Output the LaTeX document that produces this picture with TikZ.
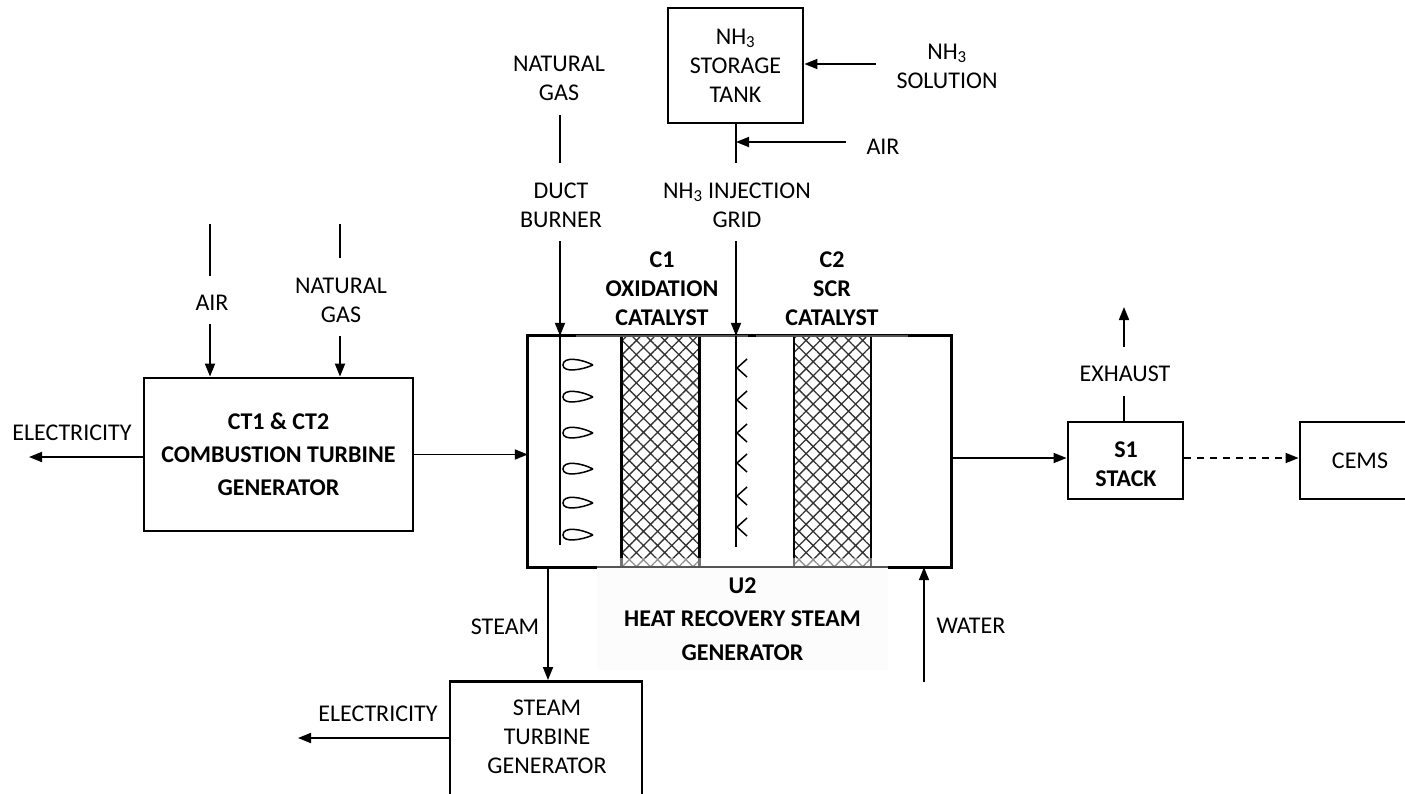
\documentclass[tikz,border=0pt]{standalone}
\usepackage{fontspec}
\setmainfont{Carlito}
\usepackage{tikz}
\usetikzlibrary{arrows.meta,patterns.meta}
\definecolor{SoftGray}{HTML}{FCFCFC}
\definecolor{HatchGray}{HTML}{333333}
\definecolor{EdgeGray}{HTML}{555555}
\begin{document}
\begin{tikzpicture}[x=1pt,y=-1pt,
  unit/.style={draw,line width=2.8pt,inner sep=0pt,align=center},
  lab/.style={inner sep=0pt,align=center},
  boldlab/.style={inner sep=0pt,align=center,font=\fontsize{24}{29}\selectfont\bfseries},
  bedfill/.style={pattern={Hatch[angle=45,distance=10pt,line width=1.3pt]},pattern color=HatchGray,minimum width=77pt,minimum height=231pt,inner sep=0pt},
  arrow/.style={-{Triangle[length=13pt,width=10pt]},line width=1.8pt},
  plain/.style={line width=1.8pt},
  font=\fontsize{24}{29}\selectfont
]
\useasboundingbox (0,0) rectangle (1405,793);
\node[unit,minimum width=269pt,minimum height=153pt,font=\fontsize{24}{33}\selectfont\bfseries] (ct) at (278.5,454.5) {CT1 \& CT2\\COMBUSTION TURBINE\\GENERATOR};
\node[minimum width=423pt,minimum height=231pt,inner sep=0pt] (hrsg) at (739.5,451.5) {};
\node[unit,minimum width=115pt,minimum height=77pt] (stack) at (1125.5,460.5) {};
\node[boldlab] (stacklab) at (1126,464) {S1\\STACK};
\node[unit,minimum width=120pt,minimum height=77pt] (cems) at (1360,460.5) {CEMS};
\node[unit,minimum width=135pt,minimum height=115pt] (tank) at (735.5,65.5) {NH\textsubscript{3}\\STORAGE\\TANK};
\node[unit,minimum width=192pt,minimum height=130pt,anchor=north] (st) at (546,680) {};
\node[lab] (stlab) at (547,737) {STEAM\\TURBINE\\GENERATOR};
% catalyst beds
\node[bedfill] (c1) at (660.5,451.5) {};
\node[bedfill] (c2) at (832.5,451.5) {};
\foreach \bed in {c1,c2} {
  \draw[line width=2.4pt] (\bed.north west)--(\bed.south west);
  \draw[line width=2.4pt] (\bed.north east)--(\bed.south east);
}
\draw[line width=2.8pt] (hrsg.north west) rectangle (hrsg.south east);
\fill[white,opacity=.45] (597,558) rectangle (888,566);
\node[lab,fill=SoftGray,minimum width=291pt,minimum height=102pt,font=\fontsize{24}{33.5}\selectfont\bfseries] (u2) at (742.5,619) {U2\\HEAT RECOVERY STEAM\\GENERATOR};
\draw[EdgeGray,line width=2.4pt] (597,567)--(888,567);
\draw[EdgeGray,line width=2.4pt] (576,336)--(748,336);
\draw[EdgeGray,line width=2.4pt] (756,336)--(908,336);
\node[boldlab] (c1lab) at (662,289) {C1\\OXIDATION\\CATALYST};
\node[boldlab] (c2lab) at (832,289) {C2\\SCR\\CATALYST};
% free ends
\coordinate (airin) at (210,224);
\coordinate (airgapa) at (210,276);
\coordinate (airgapb) at (210,324);
\coordinate (gasin) at (340,224);
\coordinate (gasgapa) at (340,258);
\coordinate (gasgapb) at (340,336);
\coordinate (ductin) at (560,115);
\coordinate (ductgapa) at (560,163);
\coordinate (ductgapb) at (560,241);
\coordinate (ductend) at (560,545);
\coordinate (gridgapa) at (736,163);
\coordinate (gridgapb) at (736,241);
\coordinate (gridend) at (736,547);
\coordinate (solin) at (876,64);
\coordinate (tankair) at (846,142);
\coordinate (elecout) at (29,457);
\coordinate (elecout2) at (298,738);
\coordinate (exout) at (1124,307);
\coordinate (exgapa) at (1124,347);
\coordinate (exgapb) at (1124,396);
\coordinate (waterin) at (924,682);
\coordinate (steamx) at (548,567);
\coordinate (flowy) at (1125,458);
% connectors
\draw[plain] (airin)--(airgapa);
\draw[arrow] (airgapb)--(airgapb |- ct.north);
\draw[plain] (gasin)--(gasgapa);
\draw[arrow] (gasgapb)--(gasgapb |- ct.north);
\draw[arrow] (ct.west |- elecout)--(elecout);
\draw[arrow] (ct.east)--(ct.east -| hrsg.west);
\draw[plain] (ductin)--(ductgapa);
\draw[arrow] (ductgapb)--(ductgapb |- hrsg.north);
\draw[plain] (ductgapb |- hrsg.north)--(ductend);
\draw[plain] (gridgapa |- tank.south)--(gridgapa);
\draw[arrow] (gridgapb)--(gridgapb |- hrsg.north);
\draw[plain] (gridgapb |- hrsg.north)--(gridend);
\draw[arrow] (solin)--(solin -| tank.east);
\draw[arrow] (tankair)--(gridgapa |- tankair);
\draw[arrow] (hrsg.east |- flowy)--(stack.west |- flowy);
\draw[arrow,dash pattern=on 7pt off 6pt] (stack.east |- flowy)--(cems.west |- flowy);
\draw[plain] (exgapb |- stack.north)--(exgapb);
\draw[arrow] (exgapa)--(exout);
\draw[arrow] (steamx)--(steamx |- st.north);
\draw[arrow] (waterin)--(waterin |- hrsg.south);
\draw[arrow] (st.west |- elecout2)--(elecout2);
% burner drops and injection nozzles
\foreach \y in {365,397,433,469,503,535} {
  \draw[line width=1.5pt] (593,\y) .. controls (582,\y-6) and (563,\y-9) .. (563,\y) .. controls (563,\y+8) and (582,\y+5) .. (593,\y);
}
\foreach \y in {368,400,433,463,496,527} {
  \draw[line width=1.5pt] (747,\y-9)--(737,\y)--(747,\y+9);
}
% labels
\node[lab] (airlab) at (212,303) {AIR};
\node[lab] (gaslab) at (341,300) {NATURAL\\GAS};
\node[lab] (ductlab) at (561,205) {DUCT\\BURNER};
\node[lab] (gridlab) at (737,205) {NH\textsubscript{3} INJECTION\\GRID};
\node[lab] (exlab) at (1125,374) {EXHAUST};
\node[lab] (steamlab) at (505,627) {STEAM};
\node[lab] (waterlab) at (971,626) {WATER};
\node[lab] (ngas2) at (559,78.5) {NATURAL\\GAS};
\node[lab] (sollab) at (947,66) {NH\textsubscript{3}\\SOLUTION};
\node[lab] (airlab2) at (883,147) {AIR};
\node[lab] (eleclab) at (72,433) {ELECTRICITY};
\node[lab] (eleclab2) at (378,714) {ELECTRICITY};
\end{tikzpicture}
\end{document}
